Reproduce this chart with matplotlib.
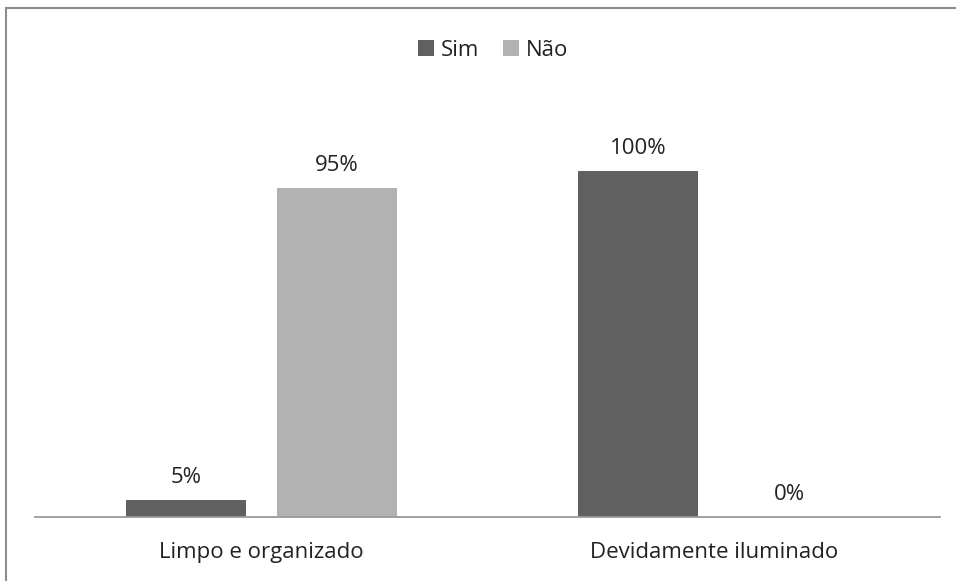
import matplotlib
matplotlib.use("Agg")
import matplotlib.pyplot as plt
from matplotlib.patches import Rectangle
import numpy as np

categories = ["Limpo e organizado", "Devidamente iluminado"]
series_names = ["Sim", "Não"]
sim = [5, 100]
nao = [95, 0]
colors = ["#606060", "#b2b2b2"]

plt.rcParams['font.family'] = ['Open Sans', 'DejaVu Sans']
FS = 16

W, H = 956, 581
fig = plt.figure(figsize=(W/100, H/100), dpi=100)
fig.patch.set_facecolor("white")

# outer border
fig.add_artist(Rectangle((6/W, -0.1), 1.2, (H-8)/H + 0.1, transform=fig.transFigure,
                         fill=False, edgecolor="#8c8c8c", linewidth=1.5))

x0, x1 = 35, 940
ybase, ytop100 = 517, 171
ax_top = 60
ymax = 100 * (ybase - ax_top) / (ybase - ytop100)
ax = fig.add_axes([x0/W, (H-ybase)/H, (x1-x0)/W, (ybase-ax_top)/H])
ax.set_xlim(-0.5, 1.5)
ax.set_ylim(0, ymax)

x = np.arange(len(categories))
bw = 0.265
off = 0.167
for vals, c, o, name in [(sim, colors[0], -off, series_names[0]), (nao, colors[1], off, series_names[1])]:
    ax.bar(x + o, vals, width=bw, color=c, label=name)
    for xi, v in zip(x + o, vals):
        ax.annotate(f"{v}%", (xi, v), xytext=(0, 8.5), textcoords="offset points",
                    ha="center", va="bottom", fontsize=FS, color="#222222")

for s in ["top", "right", "left"]:
    ax.spines[s].set_visible(False)
ax.spines["bottom"].set_color("#9a9a9a")
ax.spines["bottom"].set_linewidth(1.3)
ax.set_yticks([])
ax.set_xticks(x)
ax.set_xticklabels(categories, fontsize=FS, color="#222222")
ax.tick_params(axis="x", length=0, pad=18)

leg = fig.legend(loc="center", bbox_to_anchor=(493/W, 1 - 50/H), ncol=2, frameon=False,
                 fontsize=FS, handlelength=0.72, handleheight=0.72, handletextpad=0.3,
                 columnspacing=1.1)
for t in leg.get_texts():
    t.set_color("#222222")

fig.savefig("out.png", dpi=100, facecolor="white")
